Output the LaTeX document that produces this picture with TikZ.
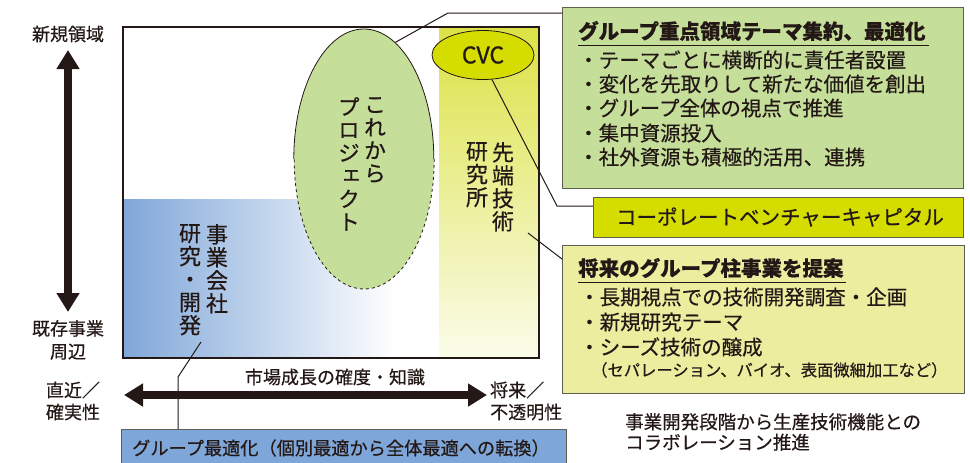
\documentclass[tikz,border=0pt]{standalone}
\usepackage{fontspec}
\setmainfont{Noto Sans CJK JP}[FakeBold=0.45]
\newfontfamily\vfont{Noto Sans CJK JP}[RawFeature=+vert, FakeBold=0.5]
\newfontfamily\cvcfont{Noto Sans CJK JP}[FakeBold=0.9]
\usetikzlibrary{shapes.geometric,arrows.meta}
\definecolor{ink}{HTML}{231815}
\definecolor{boxline}{HTML}{5F5F50}
\definecolor{greenF}{HTML}{C5DF9B}
\definecolor{cvcY}{HTML}{D5DD00}
\definecolor{paleY}{HTML}{EDED9F}
\definecolor{blueF}{HTML}{7FA6D8}
\definecolor{blueL}{HTML}{80A7D9}
\definecolor{yelT}{HTML}{DCE246}
\definecolor{yelM}{HTML}{EAEE92}
\definecolor{yelB}{HTML}{FBFCEA}
\begin{document}
\begin{tikzpicture}[x=1pt,y=-1pt,
  every node/.style={inner sep=0pt, text=ink},
  vtext/.style={align=center, anchor=north, font=\vfont\fontsize{22}{23}\selectfont},
  body/.style={anchor=west, font=\fontsize{20.5}{24}\selectfont},
  head/.style={anchor=west, font=\bfseries\fontsize{20.5}{24}\selectfont},
  lbl/.style={font=\fontsize{18}{23}\selectfont, align=center},
  conn/.style={draw=ink, line width=1pt},
  tbox/.style={draw=boxline, line width=1.3pt, anchor=north west},
  bigarrow/.style={draw=ink, line width=8pt, {Triangle[length=19pt,width=22pt]}-{Triangle[length=19pt,width=22pt]}}
]
\useasboundingbox (0,0) rectangle (970,463);

% gradient regions
\shade[left color=blueL, right color=white] (123,199) rectangle (395,358);
\shade[top color=yelT, middle color=yelM, bottom color=yelB] (439,27) rectangle (539,358);
% main frame
\draw[ink, line width=2pt] (123,27) rectangle (539,358);

% project ellipse
\node[ellipse, fill=greenF, minimum width=140pt, minimum height=260pt] (proj) at (364,159) {};
\draw[ink, line width=0.8pt] (proj.west) arc[start angle=180, end angle=360, x radius=70, y radius=130];
\draw[ink, line width=0.8pt, dashed] (proj.east) arc[start angle=0, end angle=180, x radius=70, y radius=130];
\node[vtext] (korekara) at (375,97) {こ\\れ\\か\\ら};
\node[vtext] (project) at (349,97) {プ\\ロ\\ジ\\ェ\\ク\\ト};

% CVC ellipse
\node[ellipse, draw=ink, line width=0.8pt, fill=cvcY, minimum width=102pt, minimum height=49pt,
      font=\cvcfont\fontsize{23}{24}\selectfont] (cvc) at (483,55) {CVC};

% vertical labels
\node[vtext] (sentan) at (503,142) {先\\端\\技\\術};
\node[vtext] (kenkyusho) at (477,142) {研\\究\\所};
\node[vtext] (jigyo) at (217,224) {事\\業\\会\\社};
\node[vtext] (kaihatsu) at (190,224) {研\\究\\・\\開\\発};

% right boxes
\node[tbox, fill=greenF, minimum width=401pt, minimum height=181pt] (grp) at (562,7) {};
\node[head] (gt) at (578,31) {グループ重点領域テーマ集約、最適化};
\draw[ink, line width=0.9pt] ([yshift=-4pt]gt.south west) -- ([yshift=-4pt,xshift=3pt]gt.south east);
\node[body] (g1) at (578,60) {・テーマごとに横断的に責任者設置};
\node[body] (g2) at (578,84) {・変化を先取りして新たな価値を創出};
\node[body] (g3) at (578,108) {・グループ全体の視点で推進};
\node[body] (g4) at (578,133) {・集中資源投入};
\node[body] (g5) at (578,157) {・社外資源も積極的活用、連携};

\node[tbox, fill=cvcY, minimum width=370pt, minimum height=40pt] (cvcbox) at (593,197) {};
\node[font=\fontsize{20.5}{24}\selectfont] (cvct) at (780,217) {コーポレートベンチャーキャピタル};

\node[tbox, fill=paleY, minimum width=402pt, minimum height=148pt] (pale) at (562,245) {};
\node[head] (pt) at (578,268) {将来のグループ柱事業を提案};
\draw[ink, line width=0.9pt] ([yshift=-4pt]pt.south west) -- ([yshift=-4pt,xshift=2pt]pt.south east);
\node[body] (p1) at (579,297) {・長期視点での技術開発調査・企画};
\node[body] (p2) at (579,322) {・新規研究テーマ};
\node[body] (p3) at (579,347) {・シーズ技術の醸成};
\node[anchor=west, font=\fontsize{16.3}{18}\selectfont] (p4) at (591,370) {（セパレーション、バイオ、表面微細加工など）};

% bottom blue box
\node[tbox, fill=blueF, minimum width=445pt, minimum height=42pt] (gbox) at (121,429) {};
\node[font=\fontsize{18.2}{22}\selectfont] (gboxt) at (341,448) {グループ最適化（個別最適から全体最適への転換）};

% bottom right text
\node[anchor=west, align=left, font=\fontsize{18.5}{20.5}\selectfont] (collab) at (625,432) {事業開発段階から生産技術機能との\\コラボレーション推進};

% axes
\coordinate (vtop) at (68,50);
\coordinate (vbot) at (68,312);
\draw[bigarrow] (vbot) -- (vtop);
\coordinate (hl) at (124,395);
\coordinate (hr) at (487,395);
\draw[bigarrow] (hl) -- (hr);
\node[lbl] (shinki) at (68,34) {新規領域};
\node[lbl] (kizon) at (68,340) {既存事業\\周辺};
\node[lbl, font=\fontsize{18}{22}\selectfont] (chokkin) at (73,401) {直近／\\確実性};
\node[lbl, align=left, anchor=west, font=\fontsize{18}{22}\selectfont] (shorai) at (490,401) {将来／\\不透明性};
\node[lbl] (shijo) at (335,377) {市場成長の確度・知識};

% callout connectors
\coordinate (c1) at (448,13);
\draw[conn] (proj.75) -- (c1) -- (c1 -| grp.west);
\coordinate (c2) at (557,206);
\draw[conn] (cvc.-70) -- (c2) -- (c2 -| cvcbox.west);
\coordinate (c3) at (528,233);
\coordinate (c3e) at (562,259);
\draw[conn] (c3) -- (c3e);
\coordinate (c4) at (201,342);
\coordinate (c5) at (178,377);
\draw[conn] (c4) -- (c5) -- (c5 |- gbox.north);
\end{tikzpicture}
\end{document}
